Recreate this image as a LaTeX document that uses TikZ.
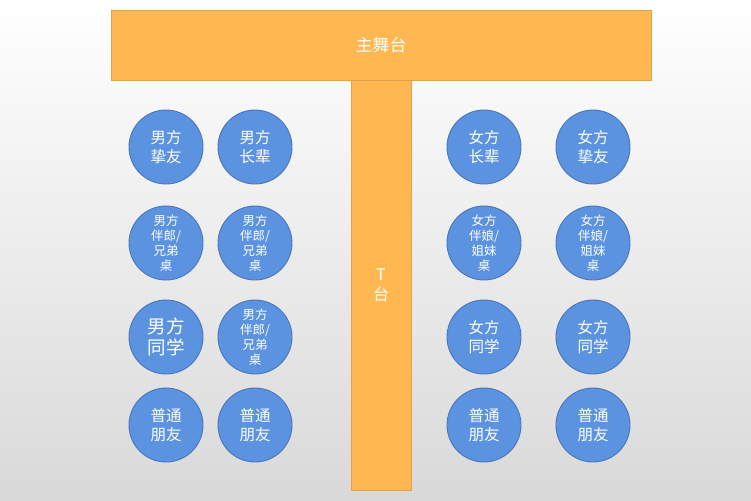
\documentclass[tikz,border=0pt]{standalone}
\usepackage{fontspec}
\newfontfamily\cjk{Noto Sans CJK SC}
\definecolor{stage}{HTML}{FFB851}
\definecolor{stageline}{HTML}{E0A348}
\definecolor{seat}{HTML}{5B93E0}
\definecolor{seatline}{HTML}{4A76BA}
\definecolor{bgbottom}{HTML}{D9D9D9}
\begin{document}
\begin{tikzpicture}[x=1pt,y=-1pt,
  stagebox/.style={rectangle, fill=stage, draw=stageline, line width=0.8pt, inner sep=0pt, text=white, font=\cjk\fontsize{17}{20}\selectfont, align=center},
  seat/.style={circle, fill=seat, draw=seatline, line width=0.9pt, minimum size=74pt, inner sep=0pt, text=white, align=center, font=\cjk\fontsize{15.5}{18.5}\selectfont},
  seatsmall/.style={seat, font=\cjk\fontsize{12.5}{15}\selectfont},
  seatbig/.style={seat, font=\cjk\fontsize{18.5}{20.5}\selectfont}]
\useasboundingbox (0,0) rectangle (751,500);
\shade[top color=white, bottom color=bgbottom] (0,0) rectangle (751,500);
% T stage
\node[stagebox, minimum width=60pt, minimum height=410pt, font=\cjk\fontsize{16}{20}\selectfont] (tstage) at (381,285) {T\\台};
\node[stagebox, minimum width=540pt, minimum height=70pt] (main) at (381,45) {主舞台};
% left side
\node[seat] (l11) at (166,147) {男方\\挚友};
\node[seat] (l12) at (255,147) {男方\\长辈};
\node[seatsmall] (l21) at (166,243) {男方\\伴郎/\\兄弟\\桌};
\node[seatsmall] (l22) at (255,243) {男方\\伴郎/\\兄弟\\桌};
\node[seatbig] (l31) at (166,337) {男方\\同学};
\node[seatsmall] (l32) at (255,337) {男方\\伴郎/\\兄弟\\桌};
\node[seat] (l41) at (166,425) {普通\\朋友};
\node[seat] (l42) at (255,425) {普通\\朋友};
% right side
\node[seat] (r11) at (484,147) {女方\\长辈};
\node[seat] (r12) at (593,147) {女方\\挚友};
\node[seatsmall] (r21) at (484,243) {女方\\伴娘/\\姐妹\\桌};
\node[seatsmall] (r22) at (593,243) {女方\\伴娘/\\姐妹\\桌};
\node[seat] (r31) at (484,337) {女方\\同学};
\node[seat] (r32) at (593,337) {女方\\同学};
\node[seat] (r41) at (484,425) {普通\\朋友};
\node[seat] (r42) at (593,425) {普通\\朋友};
\end{tikzpicture}
\end{document}
